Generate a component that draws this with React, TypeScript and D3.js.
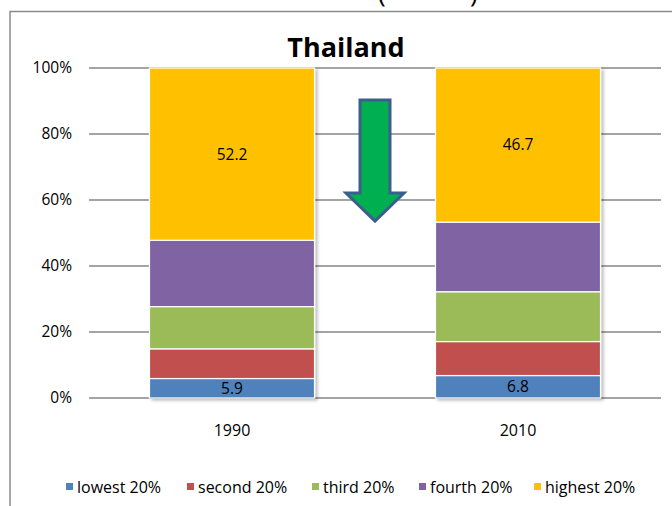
import React from "react";
import * as d3 from "d3";

const categories = ["1990", "2010"];
const seriesNames = ["lowest 20%", "second 20%", "third 20%", "fourth 20%", "highest 20%"];
const seriesColors = ["#4F81BD", "#C0504D", "#9BBB59", "#8064A2", "#FFC000"];
const lowest = [5.9, 6.8];
const second = [9.0, 10.3];
const third = [12.8, 15.1];
const fourth = [20.1, 21.1];
const highest = [52.2, 46.7];
const labeledSeries = [0, 4];
const yTicks = [0, 20, 40, 60, 80, 100];
const title = "Thailand";

const W = 672;
const H = 506;
const FONT = "'Open Sans', 'Liberation Sans', sans-serif";
const legendX = [66, 187, 312, 419, 534];

export default function App() {
  const values = [lowest, second, third, fourth, highest];
  const rows = categories.map((c, i) => {
    const r: any = { cat: c };
    const total = values.reduce((s, arr) => s + arr[i], 0);
    seriesNames.forEach((n, k) => (r[n] = (values[k][i] / total) * 100));
    return r;
  });
  const stacked = d3.stack().keys(seriesNames)(rows);

  const x = d3.scaleBand().domain(categories).range([89, 661]).paddingInner(0.423).paddingOuter(0.2115);
  const y = d3.scaleLinear().domain([0, 100]).range([398, 68]);

  const arrowCx = (x("1990")! + x("2010")! + x.bandwidth()) / 2;
  const aTop = y(90.3);
  const aHead = y(62.1);
  const aTip = y(53.6);
  const arrowPts = [
    [arrowCx - 15, aTop],
    [arrowCx + 15, aTop],
    [arrowCx + 15, aHead],
    [arrowCx + 29, aHead],
    [arrowCx, aTip],
    [arrowCx - 29, aHead],
    [arrowCx - 15, aHead],
  ]
    .map((p) => p.join(","))
    .join(" ");

  return (
    <svg width={W} height={H} style={{ position: "absolute", left: 0, top: 0 }} fontFamily={FONT}>
      <defs>
        <filter id="sh" x="-10%" y="-10%" width="130%" height="130%">
          <feDropShadow dx="2.5" dy="2" stdDeviation="1.6" floodColor="#000" floodOpacity="0.25" />
        </filter>
      </defs>
      <rect x={0} y={0} width={W} height={H} fill="#fff" />
      <text x={378} y={2} fontSize={26} fill="#000">(</text>
      <text x={470} y={2} fontSize={26} fill="#000">)</text>
      <rect x={10} y={11.5} width={W + 20} height={H + 20} fill="none" stroke="#8a8a8a" strokeWidth={1.5} />
      <text x={346} y={57} textAnchor="middle" fontSize={27} fontWeight="bold" fill="#000">
        {title}
      </text>
      {yTicks.map((t) => (
        <g key={t}>
          <line x1={89} x2={661} y1={y(t)} y2={y(t)} stroke="#868686" strokeWidth={1.4} />
          <text x={72} y={y(t)} dy="0.35em" textAnchor="end" fontSize={15.5} fill="#000">
            {t + "%"}
          </text>
        </g>
      ))}
      {categories.map((c, i) => (
        <g key={c} filter="url(#sh)">
          {stacked.map((s, k) => (
            <rect
              key={k}
              x={x(c)}
              width={x.bandwidth()}
              y={y(s[i][1])}
              height={y(s[i][0]) - y(s[i][1])}
              fill={seriesColors[k]}
              stroke="#fff"
              strokeWidth={1.2}
            />
          ))}
        </g>
      ))}
      {categories.map((c, i) =>
        labeledSeries.map((k) => {
          const s = stacked[k][i];
          return (
            <text
              key={c + k}
              x={x(c)! + x.bandwidth() / 2}
              y={(y(s[0]) + y(s[1])) / 2}
              dy="0.35em"
              textAnchor="middle"
              fontSize={15.5}
              fill="#000"
            >
              {values[k][i].toFixed(1)}
            </text>
          );
        })
      )}
      {categories.map((c) => (
        <text key={c} x={x(c)! + x.bandwidth() / 2} y={436} textAnchor="middle" fontSize={16} fill="#000">
          {c}
        </text>
      ))}
      <polygon points={arrowPts} fill="#00B050" stroke="#3B5E8C" strokeWidth={3} strokeLinejoin="miter" />
      {seriesNames.map((n, k) => (
        <g key={n}>
          <rect x={legendX[k]} y={483} width={7} height={7} fill={seriesColors[k]} />
          <text x={legendX[k] + 11} y={492.5} fontSize={16} fill="#000">
            {n}
          </text>
        </g>
      ))}
    </svg>
  );
}
